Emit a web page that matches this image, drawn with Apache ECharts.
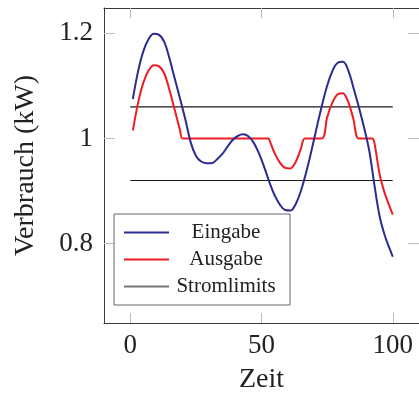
<!DOCTYPE html>
<html>
<head>
<meta charset="utf-8">
<script src="https://cdn.jsdelivr.net/npm/echarts@6/dist/echarts.min.js"></script>
<style>
  html, body { margin: 0; padding: 0; background: #fff; }
  #chart { width: 419px; height: 399px; }
</style>
</head>
<body>
<div id="chart"></div>
<script>
// Eingabe (input)
var inX = [1, 3, 5, 7, 9, 11, 13, 15, 17, 19, 21, 23, 25, 27, 29, 31, 33, 35, 37, 39, 41, 43, 45, 47, 49,
           51, 53, 55, 57, 59, 61, 63, 65, 67, 69, 71, 73, 75, 77, 79, 81, 83, 85, 87, 89, 91, 93, 95, 97, 99, 100];
var inY = [1.075, 1.128, 1.166, 1.189, 1.199, 1.197, 1.183, 1.151, 1.113, 1.075, 1.036, 0.993, 0.967, 0.956, 0.953,
           0.953, 0.960, 0.970, 0.984, 0.997, 1.005, 1.008, 1.004, 0.992, 0.972, 0.946, 0.917, 0.892, 0.874, 0.864,
           0.863, 0.875, 0.900, 0.935, 0.976, 1.020, 1.062, 1.100, 1.128, 1.144, 1.146, 1.130, 1.097, 1.061, 1.022,
           0.978, 0.912, 0.852, 0.815, 0.788, 0.775];

// Ausgabe (output)
var outX = [1, 3, 5, 7, 9, 11, 13, 15, 17, 19, 20, 52.7, 53, 55, 57, 59, 61, 63, 65, 66.5, 73, 75, 77, 79, 81,
            83, 85, 87, 92.2, 93, 95, 97, 99, 100];
var outY = [1.015, 1.068, 1.106, 1.129, 1.139, 1.137, 1.123, 1.091, 1.053, 1.015, 1.0, 1.0, 0.997, 0.972, 0.954,
            0.944, 0.943, 0.955, 0.980, 1.0, 1.0, 1.040, 1.068, 1.084, 1.086, 1.070, 1.037, 1.0, 1.0, 0.992, 0.932,
            0.895, 0.868, 0.855];

// Stromlimits
var limitX = [0, 100];
var limitUpper = 1.06;
var limitLower = 0.92;

var xTicks = [0, 50, 100];
var yTicks = [0.8, 1, 1.2];

function pairs(xs, ys) {
  return xs.map(function (x, i) { return [x, ys[i]]; });
}

var font = 'Liberation Serif';
var boxColor = '#3a3a3a';
var tickColor = '#bdbdbd';
var blue = '#2b2b92';
var red = '#ee1c25';

function xAxisDef(pos, showLabel) {
  return {
    type: 'value', position: pos, min: -10, max: 110,
    name: showLabel ? 'Zeit' : '', nameLocation: 'middle', nameGap: 43,
    nameTextStyle: { fontFamily: font, fontSize: 28, color: '#222' },
    axisLine: { show: true, onZero: false, lineStyle: { color: boxColor, width: 1 } },
    axisTick: { show: true, inside: true, length: 10, customValues: xTicks, lineStyle: { color: tickColor, width: 1 } },
    axisLabel: { show: showLabel, customValues: xTicks, margin: 9, fontFamily: font, fontSize: 27, color: '#222' },
    splitLine: { show: false }
  };
}

function yAxisDef(pos, showLabel) {
  return {
    type: 'value', position: pos, min: 0.649, max: 1.248,
    name: showLabel ? 'Verbrauch (kW)' : '', nameLocation: 'middle', nameRotate: 90, nameGap: 64,
    nameTextStyle: { fontFamily: font, fontSize: 28, color: '#222' },
    axisLine: { show: true, onZero: false, lineStyle: { color: boxColor, width: 1 } },
    axisTick: { show: true, inside: true, length: 11, customValues: yTicks, lineStyle: { color: tickColor, width: 1 } },
    axisLabel: { show: showLabel, customValues: yTicks, margin: 11, fontFamily: font, fontSize: 27, color: '#222' },
    splitLine: { show: false }
  };
}

var chart = echarts.init(document.getElementById('chart'));
var option = {
  animation: false,
  backgroundColor: '#fff',
  grid: { left: 104, top: 8, width: 320, height: 316, containLabel: false },
  xAxis: [xAxisDef('bottom', true), xAxisDef('top', false)],
  yAxis: [yAxisDef('left', true), yAxisDef('right', false)],
  legend: {
    orient: 'vertical',
    left: 114, top: 214,
    padding: [8, 12, 8, 10],
    itemGap: 6,
    itemWidth: 45, itemHeight: 2,
    icon: 'rect',
    backgroundColor: '#fff',
    borderColor: '#666', borderWidth: 1, borderRadius: 0,
    data: [
      { name: 'Eingabe', itemStyle: { color: blue } },
      { name: 'Ausgabe', itemStyle: { color: red } },
      { name: 'Stromlimits', itemStyle: { color: '#777' } }
    ],
    formatter: function (name) { return '{t|' + name + '}'; },
    textStyle: {
      rich: { t: { width: 104, align: 'center', fontFamily: font, fontSize: 21, lineHeight: 24, color: '#222' } }
    }
  },
  series: [
    {
      name: 'Eingabe', type: 'line', data: pairs(inX, inY), smooth: 0.4,
      showSymbol: false, lineStyle: { color: blue, width: 2 }, itemStyle: { color: blue }, z: 3
    },
    {
      name: 'Ausgabe', type: 'line', data: pairs(outX, outY), smooth: 0.3,
      showSymbol: false, lineStyle: { color: red, width: 2 }, itemStyle: { color: red }, z: 2
    },
    {
      name: 'Stromlimits', type: 'line', data: pairs(limitX, [limitUpper, limitUpper]),
      showSymbol: false, lineStyle: { color: '#1a1a1a', width: 1.2 }, itemStyle: { color: '#777' }, z: 1
    },
    {
      name: 'Stromlimits', type: 'line', data: pairs(limitX, [limitLower, limitLower]),
      showSymbol: false, lineStyle: { color: '#1a1a1a', width: 1.2 }, itemStyle: { color: '#777' }, z: 1
    }
  ]
};
chart.setOption(option);
</script>
</body>
</html>
